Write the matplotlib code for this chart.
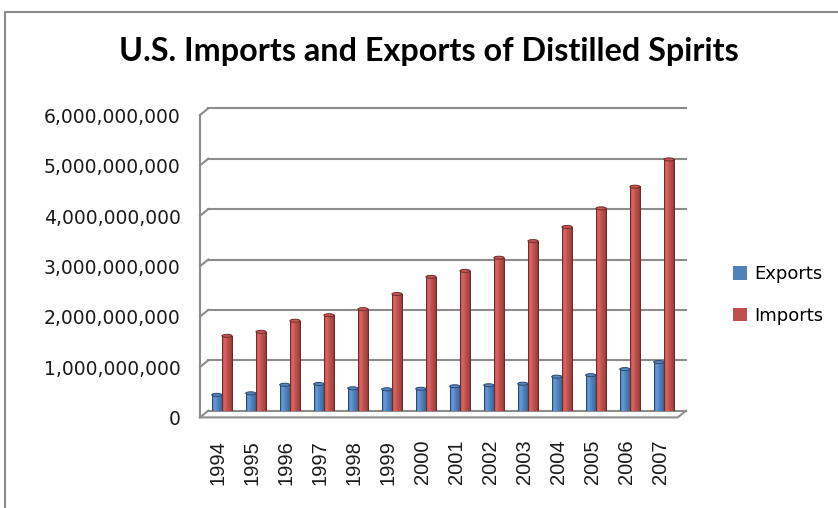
"""U.S. imports and exports of distilled spirits, Excel-style 3D column chart."""

import numpy as np
import matplotlib
matplotlib.use('Agg')
import matplotlib.pyplot as plt
from matplotlib.colors import LinearSegmentedColormap
from matplotlib.lines import Line2D
from matplotlib.patches import Ellipse, Patch
from matplotlib.transforms import ScaledTranslation

# Data (US dollars)
years = ['1994', '1995', '1996', '1997', '1998', '1999', '2000',
         '2001', '2002', '2003', '2004', '2005', '2006', '2007']
exports = [0.36e9, 0.39e9, 0.56e9, 0.575e9, 0.49e9, 0.47e9, 0.48e9,
           0.53e9, 0.55e9, 0.58e9, 0.72e9, 0.75e9, 0.87e9, 1.01e9]
imports = [1.53e9, 1.61e9, 1.83e9, 1.94e9, 2.06e9, 2.36e9, 2.70e9,
           2.82e9, 3.08e9, 3.41e9, 3.69e9, 4.06e9, 4.49e9, 5.03e9]
y_ticks = [0, 1e9, 2e9, 3e9, 4e9, 5e9, 6e9]

BLUE = '#4F81BD'
RED = '#C0504D'
GRID = '#8c8c8c'

W, H = 838, 508
fig = plt.figure(figsize=(W / 100, H / 100), dpi=100)
fig.patch.set_facecolor('white')

# back wall of the 3D plot area
ax = fig.add_axes([208.3 / W, 1 - 410.7 / H, (686 - 208.3) / W, (410.7 - 108.3) / H])
ax.set_facecolor('none')
for s in ax.spines.values():
    s.set_visible(False)

xmin, xmax = -0.4, 13.65
ymin, ymax = 0, 6e9
dx = -0.244      # depth offset, x (data units)
dy = -0.133e9    # depth offset, y (data units)
floor = -0.045e9  # bars stand in the middle of the floor


def shaded_bar(ax, x, width, bottom, height, color):
    """Draw a cylinder-looking column."""
    top = bottom + height
    base = np.array(matplotlib.colors.to_rgb(color))
    dark = base * 0.66
    light = np.clip(base * 1.12 + 0.05, 0, 1)
    cmap = LinearSegmentedColormap.from_list(
        'cyl', [base * 0.95, light, base, base * 0.9, dark])
    grad = np.linspace(0, 1, 64).reshape(1, -1)
    ax.imshow(grad, cmap=cmap, aspect='auto', interpolation='bicubic',
              extent=[x - width / 2, x + width / 2, bottom, top], zorder=3)
    ax.plot([x - width / 2, x - width / 2, x + width / 2, x + width / 2],
            [bottom, top, top, bottom], color=dark * 0.85, lw=0.7, zorder=4)
    ax.add_patch(Ellipse((x, top), width, 0.06e9, facecolor=base * 1.05,
                         edgecolor=dark * 0.85, lw=0.7, zorder=5))


x = np.arange(len(years))
bw = 0.3
for i in range(len(years)):
    shaded_bar(ax, x[i] - bw / 2, bw, floor, exports[i], BLUE)
    shaded_bar(ax, x[i] + bw / 2, bw, floor, imports[i], RED)

# gridlines on the back wall plus the slanted ones on the left wall
for g in y_ticks:
    ax.plot([xmin, xmax], [g, g], color=GRID, lw=1.5, zorder=1,
            clip_on=False)
    ax.plot([xmin + dx, xmin], [g + dy, g], color=GRID, lw=1.5, zorder=1,
            clip_on=False)
# left wall front edge
ax.plot([xmin + dx, xmin + dx], [dy, ymax + dy], color=GRID, lw=1.5,
        zorder=1, clip_on=False)
# floor front edge and right diagonal
ax.plot([xmin + dx, xmax + dx, xmax], [dy, dy, 0], color=GRID, lw=1.5,
        zorder=6, clip_on=False)

ax.set_xlim(xmin, xmax)
ax.set_ylim(ymin, ymax)

ax.set_yticks(y_ticks)
ax.set_yticklabels(['{:,.0f}'.format(v) for v in y_ticks],
                   fontsize=13.5, family='DejaVu Sans', color='#1a1a1a')
ax.tick_params(axis='y', length=0, pad=20)
for lab in ax.get_yticklabels():
    lab.set_transform(lab.get_transform() +
                      ScaledTranslation(0, -7 / 100, fig.dpi_scale_trans))

ax.set_xticks(x)
ax.set_xticklabels(years, rotation=90, fontsize=14.5,
                   family='Liberation Sans', color='#1a1a1a')
ax.tick_params(axis='x', length=0, pad=21)
for lab in ax.get_xticklabels():
    lab.set_transform(lab.get_transform() +
                      ScaledTranslation(-3.5 / 100, 0, fig.dpi_scale_trans))

# title
fig.text(429 / W, 1 - 52 / H, 'U.S. Imports and Exports of Distilled Spirits',
         ha='center', va='center', fontsize=23.3, fontweight='bold',
         family='Lato', color='black')

# legend
handles = [Patch(facecolor=BLUE, edgecolor='none', label='Exports'),
           Patch(facecolor=RED, edgecolor='none', label='Imports')]
fig.legend(handles=handles, loc='center left',
           bbox_to_anchor=(733 / W, 1 - 295 / H), frameon=False,
           prop={'family': 'DejaVu Sans', 'size': 13},
           handlelength=0.76, handleheight=0.76, handletextpad=0.4,
           labelspacing=1.3, borderpad=0, borderaxespad=0)

# chart area border (left and top edges visible)
fig.add_artist(Line2D([5 / W, 5 / W, 1], [0, 1 - 12 / H, 1 - 12 / H],
                      transform=fig.transFigure, color='#8a8a8a', lw=1.5))

fig.savefig('out.png', dpi=100, facecolor='white')
